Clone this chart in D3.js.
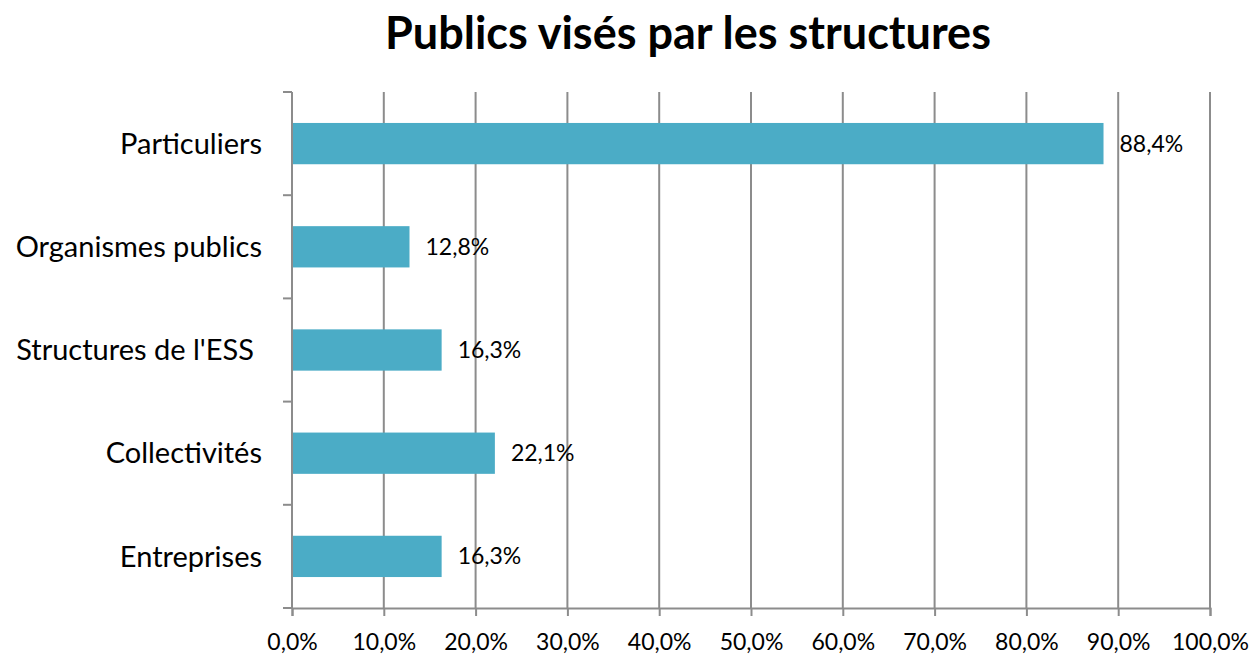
<!DOCTYPE html>
<html>
<head>
<meta charset="utf-8">
<script src="https://cdn.jsdelivr.net/npm/d3@7"></script>
<style>
    body { margin: 0; background: #fff; }
    text { font-family: Lato, "Open Sans", sans-serif; fill: #000; }
</style>
</head>
<body>
<div id="chart"></div>
<script>
// categories, top to bottom
var categories = ["Particuliers", "Organismes publics", "Structures de l'ESS", "Collectivités", "Entreprises"];
var values = [88.4, 12.8, 16.3, 22.1, 16.3];
var tickValues = [0, 10, 20, 30, 40, 50, 60, 70, 80, 90, 100];

var w = 1255,
    h = 656,
    margin = {top: 92, right: 45, bottom: 48, left: 292},
    width = w - margin.left - margin.right,
    height = h - margin.top - margin.bottom;

var fmt = function (d) { return d.toFixed(1).replace(".", ",") + "%"; };

var svg = d3.select("#chart").append("svg")
    .attr("width", w)
    .attr("height", h);

svg.append("text")
    .attr("x", 688)
    .attr("y", 49)
    .attr("text-anchor", "middle")
    .style("font-size", "45px")
    .style("font-weight", "bold")
    .text("Publics visés par les structures");

var g = svg.append("g").attr("transform", "translate(" + margin.left + "," + margin.top + ")");

var x = d3.scaleLinear()
    .domain([0, 100])
    .range([0, width]);

var y = d3.scaleBand()
    .domain(categories)
    .range([0, height])
    .paddingInner(0.6)
    .paddingOuter(0.3);

// vertical gridlines
g.append("g")
    .selectAll("line")
    .data(tickValues.slice(1))
    .enter().append("line")
    .attr("x1", function (d) { return x(d); })
    .attr("x2", function (d) { return x(d); })
    .attr("y1", 0)
    .attr("y2", height)
    .style("stroke", "#8c8c8c")
    .style("stroke-width", 2);

// bars
g.append("g")
    .selectAll("rect")
    .data(values)
    .enter().append("rect")
    .attr("x", 0)
    .attr("y", function (d, i) { return y(categories[i]); })
    .attr("width", function (d) { return x(d); })
    .attr("height", y.bandwidth())
    .style("fill", "#4bacc6");

// value labels
g.append("g")
    .selectAll("text")
    .data(values)
    .enter().append("text")
    .attr("x", function (d) { return x(d) + 16; })
    .attr("y", function (d, i) { return y(categories[i]) + y.bandwidth() / 2; })
    .attr("dy", ".35em")
    .style("font-size", "23px")
    .text(fmt);

// x axis
var xAxis = g.append("g")
    .attr("transform", "translate(0," + height + ")")
    .call(d3.axisBottom(x).tickValues(tickValues).tickSize(8).tickPadding(18).tickFormat(fmt));
xAxis.select(".domain").style("stroke", "#8c8c8c").style("stroke-width", 2);
xAxis.selectAll(".tick line").style("stroke", "#8c8c8c").style("stroke-width", 2);
xAxis.selectAll("text").style("font-size", "23px").style("fill", "#000");

// y axis: ticks at band boundaries
var boundaries = d3.range(categories.length + 1).map(function (i) { return i * y.step(); });
var yAxis = g.append("g");
yAxis.append("line")
    .attr("x1", 0).attr("x2", 0)
    .attr("y1", 0).attr("y2", height)
    .style("stroke", "#8c8c8c")
    .style("stroke-width", 2);
yAxis.selectAll(".btick")
    .data(boundaries)
    .enter().append("line")
    .attr("class", "btick")
    .attr("x1", -9).attr("x2", 0)
    .attr("y1", function (d) { return d; })
    .attr("y2", function (d) { return d; })
    .style("stroke", "#8c8c8c")
    .style("stroke-width", 2);
yAxis.selectAll(".cat")
    .data(categories)
    .enter().append("text")
    .attr("class", "cat")
    .attr("x", function (d) { return d === "Structures de l'ESS" ? -38 : -30; })
    .attr("y", function (d) { return y(d) + y.bandwidth() / 2; })
    .attr("dy", ".35em")
    .attr("text-anchor", "end")
    .style("font-size", "29px")
    .text(function (d) { return d; });
</script>
</body>
</html>
